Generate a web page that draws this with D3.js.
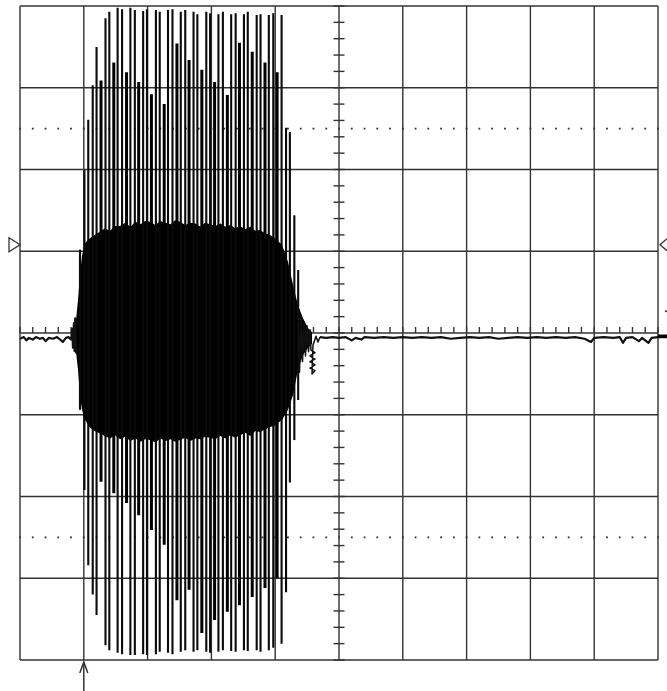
<!DOCTYPE html>
<html lang="en">
<head>
    <meta charset="utf8">
    <script type="text/javascript" src="https://cdn.jsdelivr.net/npm/d3@7"></script>
    <title>scope trace</title>
    <style>
        body { margin: 0; background: #fff; }
    </style>
</head>
<body>
    <div class="scope"></div>
</body>
<script type="text/javascript">
    // screen size and graticule (10 x 8 divisions)
    var width = 667, height = 691;
    var divX = 10, divY = 4;

    // trigger markers, in divisions
    var triggerLevel = 1.08;
    var triggerTime = 1.0;
    var groundLevel = -0.04;

    // tall sweeps of the burst: time, top peak, bottom peak (divisions)
    var tallT  = [0.94, 1.01, 1.07, 1.14, 1.20, 1.34, 1.40, 1.53, 1.60, 1.73, 1.80, 1.93, 1.99, 2.13, 2.19, 2.32, 2.39, 2.52, 2.59, 2.72, 2.78, 2.92, 2.98, 3.11, 3.18, 3.31, 3.38, 3.51, 3.57, 3.71, 3.77, 3.90, 3.97, 4.10, 4.17, 4.23, 4.30, 4.36];
    var tallHi = [1.02, 1.99, 2.61, 3.03, 3.50, 3.85, 3.93, 3.98, 3.96, 3.98, 3.95, 3.94, 3.96, 3.95, 3.93, 3.95, 3.96, 3.93, 3.95, 3.93, 3.90, 3.93, 3.91, 3.90, 3.93, 3.90, 3.91, 3.90, 3.93, 3.89, 3.90, 3.89, 3.91, 3.89, 2.51, 2.46, 1.44, 0.77];
    var tallLo = [-0.94, -1.92, -2.84, -3.20, -3.45, -3.82, -3.88, -3.91, -3.93, -3.94, -3.94, -3.93, -3.94, -3.93, -3.90, -3.91, -3.93, -3.90, -3.88, -3.90, -3.88, -3.90, -3.91, -3.90, -3.88, -3.89, -3.90, -3.88, -3.89, -3.88, -3.90, -3.88, -3.85, -3.80, -3.17, -1.83, -1.31, -0.82];

    // shorter heavy sweeps (beat pattern)
    var shortT  = [1.27, 1.47, 1.67, 1.86, 2.06, 2.26, 2.46, 2.65, 2.85, 3.05, 3.25, 3.44, 3.64, 3.84, 4.03];
    var shortHi = [3.09, 3.31, 3.19, 3.07, 2.92, 2.80, 3.54, 3.34, 3.22, 3.07, 2.91, 3.55, 3.44, 3.31, 3.19];
    var shortLo = [-1.82, -1.96, -2.08, -2.23, -2.41, -2.59, -3.27, -3.14, -3.67, -3.51, -3.41, -3.33, -3.23, -3.12, -3.00];

    // dense core of the burst: upper and lower edge
    var bandT  = [0.878, 0.909, 0.940, 0.972, 1.019, 1.097, 1.17, 1.254, 1.33, 1.41, 1.49, 1.567, 1.65, 1.73, 1.81, 1.89, 1.96, 2.038, 2.12, 2.20, 2.28, 2.36, 2.43, 2.508, 2.59, 2.67, 2.75, 2.83, 2.90, 2.978, 3.06, 3.14, 3.22, 3.30, 3.37, 3.448, 3.53, 3.61, 3.69, 3.762, 3.84, 3.92, 3.997, 4.107, 4.201, 4.279, 4.357, 4.436, 4.514, 4.577];
    var bandHi = [0.16, 0.40, 0.71, 0.95, 1.10, 1.16, 1.20, 1.24, 1.28, 1.25, 1.31, 1.31, 1.35, 1.30, 1.36, 1.33, 1.37, 1.36, 1.32, 1.37, 1.35, 1.33, 1.38, 1.36, 1.32, 1.35, 1.34, 1.30, 1.35, 1.33, 1.31, 1.34, 1.30, 1.32, 1.28, 1.31, 1.27, 1.30, 1.25, 1.26, 1.22, 1.20, 1.16, 1.08, 0.87, 0.59, 0.34, 0.18, 0.06, 0.01];
    var bandLo = [-0.23, -0.45, -0.76, -0.94, -1.06, -1.16, -1.20, -1.23, -1.26, -1.29, -1.25, -1.30, -1.27, -1.32, -1.29, -1.33, -1.30, -1.31, -1.34, -1.29, -1.32, -1.30, -1.33, -1.31, -1.28, -1.32, -1.29, -1.30, -1.27, -1.28, -1.30, -1.26, -1.29, -1.25, -1.28, -1.25, -1.22, -1.26, -1.20, -1.21, -1.18, -1.15, -1.13, -1.06, -0.94, -0.76, -0.45, -0.27, -0.18, -0.13];

    // ringing after the burst
    var ringT = [4.357, 4.381, 4.404, 4.428, 4.451, 4.475, 4.498, 4.522, 4.545, 4.561, 4.624, 4.545, 4.624, 4.545, 4.624, 4.545, 4.624, 4.577, 4.592, 4.639, 4.671, 4.702];
    var ringV = [0.34, -0.48, 0.22, -0.35, 0.13, -0.28, 0.09, -0.23, 0.04, -0.21, -0.24, -0.28, -0.32, -0.35, -0.39, -0.43, -0.46, -0.50, -0.15, -0.04, -0.11, -0.05];

    // quiet trace before the burst
    var preT = [0.00, 0.06, 0.10, 0.14, 0.20, 0.25, 0.31, 0.36, 0.40, 0.45, 0.52, 0.58, 0.63, 0.67, 0.72, 0.76, 0.80, 0.82, 0.83, 0.845, 0.855, 0.865, 0.878];
    var preV = [-0.07, -0.05, -0.09, -0.06, -0.08, -0.05, -0.07, -0.06, -0.10, -0.06, -0.07, -0.05, -0.08, -0.11, -0.06, -0.05, -0.08, 0.05, -0.18, 0.12, -0.22, 0.18, -0.25];

    // quiet trace after the burst
    var postT = [4.70, 4.80, 4.90, 5.00, 5.10, 5.20, 5.26, 5.35, 5.40, 5.55, 5.70, 5.85, 6.00, 6.15, 6.30, 6.45, 6.60, 6.75, 6.90, 7.05, 7.20, 7.35, 7.50, 7.65, 7.80, 7.95, 8.10, 8.25, 8.40, 8.55, 8.70, 8.85, 8.95, 9.00, 9.15, 9.30, 9.40, 9.45, 9.50, 9.60, 9.70, 9.75, 9.85, 9.90, 10.00, 10.14];
    var postV = [-0.05, -0.06, -0.05, -0.06, -0.05, -0.09, -0.06, -0.08, -0.05, -0.06, -0.05, -0.06, -0.05, -0.06, -0.05, -0.06, -0.05, -0.07, -0.06, -0.05, -0.06, -0.05, -0.07, -0.06, -0.05, -0.06, -0.05, -0.06, -0.05, -0.06, -0.05, -0.07, -0.11, -0.06, -0.05, -0.06, -0.05, -0.12, -0.06, -0.05, -0.10, -0.06, -0.12, -0.06, -0.05, -0.05];

    // svg
    var svg = d3.select("body div.scope")
            .append("svg")
            .attr("width", width)
            .attr("height", height)
            .style("background", "#fff")
            .style("display", "block");

    var x = d3.scaleLinear().domain([0, divX]).range([20, 658]);
    var y = d3.scaleLinear().domain([-divY, divY]).range([660, 6]);

    var gridColor = "#333";

    // graticule
    var grid = svg.append("g").attr("class", "grid")
            .attr("stroke", gridColor).attr("stroke-width", 1.4);
    grid.selectAll("line.v")
        .data(d3.range(0, divX + 1))
        .enter().append("line")
        .attr("x1", function(d){ return x(d); })
        .attr("x2", function(d){ return x(d); })
        .attr("y1", y(divY)).attr("y2", y(-divY));
    grid.selectAll("line.h")
        .data(d3.range(-divY, divY + 1))
        .enter().append("line")
        .attr("y1", function(d){ return y(d); })
        .attr("y2", function(d){ return y(d); })
        .attr("x1", x(0)).attr("x2", x(divX));

    // dotted lines at +-2.5 div
    var minorX = d3.range(0, divX + 0.01, 0.2);
    [2.5, -2.5].forEach(function(lv){
        grid.selectAll(null)
            .data(minorX)
            .enter().append("rect")
            .attr("x", function(d){ return x(d) - 0.9; })
            .attr("y", y(lv) - 0.9)
            .attr("width", 1.8).attr("height", 1.8)
            .attr("fill", gridColor).attr("stroke", "none");
    });

    // centre ticks: horizontal axis (up only) and vertical axis (both sides)
    grid.selectAll("line.tx")
        .data(minorX)
        .enter().append("line")
        .attr("x1", function(d){ return x(d); })
        .attr("x2", function(d){ return x(d); })
        .attr("y1", y(0)).attr("y2", y(0) - 6);
    grid.selectAll("line.ty")
        .data(d3.range(-divY, divY + 0.01, 0.2))
        .enter().append("line")
        .attr("y1", function(d){ return y(d); })
        .attr("y2", function(d){ return y(d); })
        .attr("x1", x(5) - 5.5).attr("x2", x(5) + 5.5);

    // trace
    var trace = svg.append("g").attr("class", "trace");

    // dense core
    var band = bandT.map(function(t, i){ return [t, bandHi[i], bandLo[i]]; });
    trace.append("path")
        .datum(band)
        .attr("fill", "#000")
        .attr("d", d3.area()
            .x(function(d){ return x(d[0]); })
            .y0(function(d){ return y(d[2]); })
            .y1(function(d){ return y(d[1]); }));

    // sweeps
    trace.selectAll("line.tall")
        .data(tallT.map(function(t, i){ return [t, tallHi[i], tallLo[i]]; }))
        .enter().append("line")
        .attr("class", "tall")
        .attr("x1", function(d){ return x(d[0]); })
        .attr("x2", function(d){ return x(d[0]); })
        .attr("y1", function(d){ return y(d[1]); })
        .attr("y2", function(d){ return y(d[2]); })
        .attr("stroke", "#0a0a0a").attr("stroke-width", 2.1);
    trace.selectAll("line.short")
        .data(shortT.map(function(t, i){ return [t, shortHi[i], shortLo[i]]; }))
        .enter().append("line")
        .attr("class", "short")
        .attr("x1", function(d){ return x(d[0]); })
        .attr("x2", function(d){ return x(d[0]); })
        .attr("y1", function(d){ return y(d[1]); })
        .attr("y2", function(d){ return y(d[2]); })
        .attr("stroke", "#000").attr("stroke-width", 3);

    // quiet parts and ringing
    var line = d3.line()
        .x(function(d){ return x(d[0]); })
        .y(function(d){ return y(d[1]); });
    [[preT, preV, 2.2], [ringT, ringV, 1.5], [postT, postV, 2.2]].forEach(function(s){
        trace.append("path")
            .datum(s[0].map(function(t, i){ return [t, s[1][i]]; }))
            .attr("fill", "none")
            .attr("stroke", "#111")
            .attr("stroke-width", s[2])
            .attr("stroke-linejoin", "round")
            .attr("d", line);
    });

    // markers
    var mk = svg.append("g").attr("class", "markers")
            .attr("stroke", gridColor).attr("stroke-width", 1.3).attr("fill", "none");
    var ty = y(triggerLevel);
    mk.append("path")
        .attr("d", "M9," + (ty - 7) + "L" + x(0) + "," + ty + "L9," + (ty + 7) + "Z")
        .attr("fill", "#fff");
    mk.append("path")
        .attr("d", "M" + (x(divX) + 9) + "," + (ty - 6) + "L" + (x(divX) + 2) + "," + ty + "L" + (x(divX) + 9) + "," + (ty + 6));
    // channel ground marker on the right
    mk.append("line")
        .attr("x1", x(divX)).attr("x2", width)
        .attr("y1", y(groundLevel)).attr("y2", y(groundLevel))
        .attr("stroke", "#000").attr("stroke-width", 3.5);
    svg.append("circle")
        .attr("cx", x(divX) + 8).attr("cy", y(groundLevel) - 25)
        .attr("r", 1.1)
        .attr("fill", gridColor);
    // trigger time arrow
    var tx = x(triggerTime);
    mk.append("line")
        .attr("x1", tx).attr("x2", tx)
        .attr("y1", y(-divY) + 2).attr("y2", height)
        .attr("stroke-width", 1.5);
    mk.append("path")
        .attr("d", "M" + (tx - 4) + "," + (y(-divY) + 13) + "L" + tx + "," + (y(-divY) + 2) + "L" + (tx + 4) + "," + (y(-divY) + 13))
        .attr("stroke-width", 1.5);
</script>
</html>
